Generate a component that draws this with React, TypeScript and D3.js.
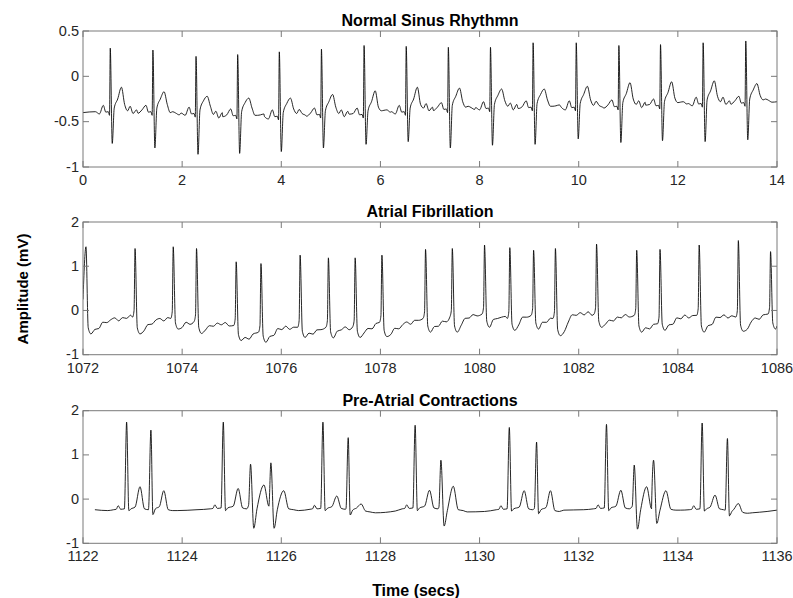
import React from 'react';
import * as d3 from 'd3';

// ---------- Data ----------
// Normal sinus rhythm
const nsrBeatTimes = [0.55, 1.41, 2.28, 3.12, 3.96, 4.81, 5.67, 6.52, 7.37, 8.22, 9.08, 9.95, 10.81, 11.65, 12.51, 13.37];
const nsrRPeak = [0.31, 0.29, 0.22, 0.24, 0.27, 0.30, 0.34, 0.33, 0.32, 0.32, 0.37, 0.37, 0.34, 0.35, 0.37, 0.39];
const nsrSTrough = [-0.74, -0.79, -0.86, -0.85, -0.83, -0.79, -0.75, -0.72, -0.79, -0.76, -0.75, -0.69, -0.73, -0.71, -0.72, -0.70];
const nsrTPeak = [-0.12, -0.17, -0.22, -0.24, -0.24, -0.20, -0.16, -0.12, -0.13, -0.14, -0.14, -0.11, -0.07, -0.06, -0.05, -0.08];
const nsrBaseline = [-0.40, -0.40, -0.42, -0.44, -0.45, -0.43, -0.43, -0.40, -0.37, -0.36, -0.35, -0.35, -0.34, -0.33, -0.31, -0.30, -0.28];
const nsrWiggle = [0.02, -0.015, 0.03, -0.01, 0.015, -0.02, 0.025];

// Atrial fibrillation
const afBeatTimes = [1072.06, 1073.05, 1073.82, 1074.29, 1075.09, 1075.59, 1076.38, 1076.95, 1077.49, 1078.03, 1078.91, 1079.45, 1080.10, 1080.61, 1081.09, 1081.53, 1082.36, 1083.17, 1083.64, 1084.43, 1085.22, 1085.87];
const afRPeak = [1.44, 1.40, 1.44, 1.40, 1.10, 1.06, 1.25, 1.19, 1.19, 1.25, 1.38, 1.40, 1.48, 1.42, 1.36, 1.40, 1.50, 1.36, 1.38, 1.48, 1.58, 1.33];
const afTrough = [-0.53, -0.53, -0.42, -0.52, -0.68, -0.72, -0.61, -0.62, -0.61, -0.59, -0.49, -0.49, -0.38, -0.45, -0.42, -0.57, -0.38, -0.49, -0.45, -0.49, -0.47, -0.42];
const afMid = [-0.23, -0.25, -0.33, -0.30, -0.61, -0.42, -0.49, -0.42, -0.45, -0.34, -0.34, -0.15, -0.15, -0.18, -0.27, -0.08, -0.18, -0.38, -0.18, -0.15, -0.23, -0.38];
const afPreR = [0.25, -0.15, -0.18, -0.25, -0.34, -0.49, -0.38, -0.38, -0.37, -0.27, -0.18, -0.15, -0.08, -0.18, -0.11, -0.18, -0.08, -0.11, -0.30, -0.11, -0.15, -0.08];
const afEnd = -0.35;
const afFlutter = [0.03, -0.02, 0.05, -0.03, 0.01, 0.04, -0.04, 0.02, -0.01, 0.05, -0.02, 0.03, -0.05, 0.02, 0.04, -0.03];

// Pre-atrial contractions
const pacBeatTimes = [1122.88, 1123.37, 1124.83, 1125.38, 1125.79, 1126.84, 1127.35, 1128.70, 1129.22, 1130.60, 1131.15, 1132.56, 1133.12, 1133.51, 1134.49, 1135.00];
const pacBeatType = ['N', 'P', 'N', 'A', 'A', 'N', 'P', 'N', 'A', 'N', 'P', 'N', 'A', 'A', 'N', 'P'];
const pacRPeak = [1.74, 1.56, 1.74, 0.79, 0.82, 1.74, 1.39, 1.67, 0.88, 1.62, 1.29, 1.69, 0.77, 0.88, 1.72, 1.37];
const pacSTrough = [-0.26, -0.35, -0.26, -0.66, -0.66, -0.26, -0.36, -0.26, -0.61, -0.27, -0.33, -0.26, -0.68, -0.55, -0.27, -0.38];
const pacTTimes = [1123.15, 1123.63, 1125.13, 1125.65, 1126.05, 1127.12, 1127.61, 1128.99, 1129.47, 1130.90, 1131.43, 1132.85, 1133.37, 1133.76, 1134.75, 1135.22];
const pacTPeak = [0.28, 0.19, 0.24, 0.32, 0.19, 0.07, -0.11, 0.20, 0.29, 0.19, 0.19, 0.20, 0.28, 0.19, 0.09, -0.10];
const pacBaseline = [-0.24, -0.22, -0.22, -0.22, -0.24, -0.23, -0.25, -0.22, -0.26, -0.24, -0.24, -0.22, -0.24, -0.25, -0.24, -0.28];
const pacGapTimes = [1122.24, 1122.5, 1123.9, 1124.3, 1126.35, 1127.9, 1128.3, 1129.75, 1130.1, 1131.7, 1132.1, 1134.05, 1135.5, 1135.8, 1136.0];
const pacGapValues = [-0.24, -0.26, -0.26, -0.24, -0.26, -0.31, -0.27, -0.29, -0.28, -0.25, -0.24, -0.25, -0.31, -0.28, -0.25];

const titles = ['Normal Sinus Rhythmn', 'Atrial Fibrillation', 'Pre-Atrial Contractions'];
const xDomains: [number, number][] = [[0, 14], [1072, 1086], [1122, 1136]];
const yDomains: [number, number][] = [[-1, 0.5], [-1, 2], [-1, 2]];
const yTickValues = [[-1, -0.5, 0, 0.5], [-1, 0, 1, 2], [-1, 0, 1, 2]];
const xTickSteps = [2, 2, 2];

type Pt = [number, number];

function mergeBeats(beats: Pt[][]): Pt[] {
  const out: Pt[] = [];
  beats.forEach((b, i) => {
    const next = beats[i + 1];
    const limit = next ? next[0][0] : Infinity;
    b.forEach((p) => { if (p[0] < limit) out.push(p); });
  });
  return out;
}

function buildNSR(): Pt[] {
  const beats: Pt[][] = nsrBeatTimes.map((R, i) => {
    const b = nsrBaseline[i];
    const b2 = nsrBaseline[i + 1];
    const w = nsrWiggle;
    return [
      [R - 0.30, b + w[i % 7] * 0.5],
      [R - 0.22, b + w[(i + 1) % 7]],
      [R - 0.14, b + 0.08],
      [R - 0.09, b + 0.005],
      [R - 0.04, b + 0.01],
      [R - 0.015, b - 0.03],
      [R, nsrRPeak[i]],
      [R + 0.04, nsrSTrough[i]],
      [R + 0.08, b + 0.05],
      [R + 0.15, b + 0.15],
      [R + 0.225, nsrTPeak[i]],
      [R + 0.29, b + 0.09],
      [R + 0.35, b2 + 0.02],
      [R + 0.40, b2 + 0.04 + w[(i + 2) % 7]],
      [R + 0.46, b2 + w[(i + 3) % 7]],
      [R + 0.53, b2 + 0.015 + w[(i + 4) % 7]],
    ] as Pt[];
  });
  return [[0, nsrBaseline[0]] as Pt, ...mergeBeats(beats), [14, nsrBaseline[16]] as Pt];
}

function buildAF(): Pt[] {
  const pts: Pt[] = [[1072.0, afPreR[0]]];
  let f = 0;
  afBeatTimes.forEach((R, i) => {
    if (i > 0) {
      pts.push([R - 0.05, afPreR[i]]);
      pts.push([R - 0.02, afPreR[i] + 0.15]);
    }
    pts.push([R, afRPeak[i]]);
    pts.push([R + 0.045, afTrough[i] + 0.14]);
    pts.push([R + 0.1, afTrough[i]]);
    const last = i + 1 >= afBeatTimes.length;
    const endV = last ? afEnd : afPreR[i + 1];
    const t0 = R + 0.1;
    const t1 = last ? 1086.0 : afBeatTimes[i + 1] - 0.05;
    const tm = t0 + (t1 - t0) * 0.4;
    // flutter waves riding on trough -> mid -> pre levels
    const level = d3.scaleLinear<number>().domain([t0, tm, t1]).range([afTrough[i], afMid[i], endV]);
    for (let t = t0 + 0.08; t < t1 - 0.04; t += 0.08) {
      pts.push([t, level(t) + afFlutter[f % afFlutter.length]]);
      f++;
    }
    if (last) pts.push([1086.0, afEnd]);
  });
  return pts;
}

function buildPAC(): Pt[] {
  const beats: Pt[][] = pacBeatTimes.map((R, i) => {
    const b = pacBaseline[i];
    const T = pacTTimes[i];
    const t = pacTPeak[i];
    const r = pacRPeak[i];
    const s = pacSTrough[i];
    const type = pacBeatType[i];
    if (type === 'N') {
      return [
        [R - 0.26, b], [R - 0.21, b + 0.01], [R - 0.17, b + 0.09], [R - 0.12, b + 0.01],
        [R - 0.045, b + 0.02], [R, r], [R + 0.045, s], [R + 0.09, b + 0.02],
        [T - 0.1, b + 0.06], [T, t], [T + 0.09, b + 0.02], [T + 0.17, b],
      ] as Pt[];
    }
    if (type === 'P') {
      return [
        [R - 0.045, b + 0.03], [R, r], [R + 0.04, s], [R + 0.09, b],
        [T - 0.09, b + 0.05], [T, t], [T + 0.09, b - 0.02], [T + 0.18, b - 0.04],
      ] as Pt[];
    }
    return [
      [R - 0.04, b + 0.08], [R, r], [R + 0.065, s], [R + 0.13, b],
      [T, t], [T + 0.1, b + 0.02], [T + 0.2, b],
    ] as Pt[];
  });
  const pts = mergeBeats(beats);
  pacGapTimes.forEach((gt, i) => pts.push([gt, pacGapValues[i]]));
  pts.sort((a, b) => a[0] - b[0]);
  return pts;
}

const signals = [buildNSR(), buildAF(), buildPAC()];

// ---------- Layout ----------
const W = 793;
const H = 598;
const LEFT = 83;
const RIGHT = 777;
const panelTops = [31, 222, 410.7];
const panelBottoms = [167, 354.7, 543.3];
const TICK = 6;
const FONT = 'Liberation Sans, Arial, Helvetica, sans-serif';
const AXIS_COLOR = '#7a7a7a';
const TEXT_COLOR = '#262626';

function fmt(v: number) {
  return String(v);
}

function Panel({ idx }: { idx: number }) {
  const top = panelTops[idx];
  const bottom = panelBottoms[idx];
  const x = d3.scaleLinear().domain(xDomains[idx]).range([LEFT, RIGHT]);
  const y = d3.scaleLinear().domain(yDomains[idx]).range([bottom, top]);
  const xTicks = d3.range(xDomains[idx][0], xDomains[idx][1] + 0.001, xTickSteps[idx]);
  const yTicks = yTickValues[idx];
  const line = d3.line<Pt>().x((d) => x(d[0])).y((d) => y(d[1])).curve(d3.curveMonotoneX);
  const clipId = `clip-${idx}`;
  return (
    <g>
      <defs>
        <clipPath id={clipId}>
          <rect x={LEFT} y={top} width={RIGHT - LEFT} height={bottom - top} />
        </clipPath>
      </defs>
      <path d={line(signals[idx]) || ''} fill="none" stroke="#000" strokeWidth={0.85} clipPath={`url(#${clipId})`} strokeLinejoin="round" />
      <rect x={LEFT} y={top} width={RIGHT - LEFT} height={bottom - top} fill="none" stroke={AXIS_COLOR} strokeWidth={1} />
      {xTicks.map((t) => (
        <g key={`xt${t}`}>
          <line x1={x(t)} x2={x(t)} y1={bottom} y2={bottom - TICK} stroke={AXIS_COLOR} strokeWidth={1} />
          <line x1={x(t)} x2={x(t)} y1={top} y2={top + TICK} stroke={AXIS_COLOR} strokeWidth={1} />
          <text x={x(t)} y={bottom + 18} textAnchor="middle" fontFamily={FONT} fontSize={14.5} fill={TEXT_COLOR}>{fmt(t)}</text>
        </g>
      ))}
      {yTicks.map((t) => (
        <g key={`yt${t}`}>
          <line x1={LEFT} x2={LEFT + TICK} y1={y(t)} y2={y(t)} stroke={AXIS_COLOR} strokeWidth={1} />
          <line x1={RIGHT} x2={RIGHT - TICK} y1={y(t)} y2={y(t)} stroke={AXIS_COLOR} strokeWidth={1} />
          <text x={LEFT - 4} y={y(t) + 4.5} textAnchor="end" fontFamily={FONT} fontSize={14.5} fill={TEXT_COLOR}>{fmt(t)}</text>
        </g>
      ))}
      <text x={(LEFT + RIGHT) / 2} y={top - 5} textAnchor="middle" fontFamily={FONT} fontWeight="bold" fontSize={16} fill="#000">{titles[idx]}</text>
    </g>
  );
}

export default function App() {
  return (
    <svg width={W} height={H} style={{ position: 'absolute', left: 0, top: 0, background: '#fff' }}>
      <rect x={0} y={0} width={W} height={H} fill="#fff" />
      {[0, 1, 2].map((i) => <Panel key={i} idx={i} />)}
      <text transform={`translate(28,289) rotate(-90)`} textAnchor="middle" fontFamily={FONT} fontWeight="bold" fontSize={15} fill="#000">Amplitude (mV)</text>
      <text x={416} y={596} textAnchor="middle" fontFamily={FONT} fontWeight="bold" fontSize={16} fill="#000">Time (secs)</text>
    </svg>
  );
}
